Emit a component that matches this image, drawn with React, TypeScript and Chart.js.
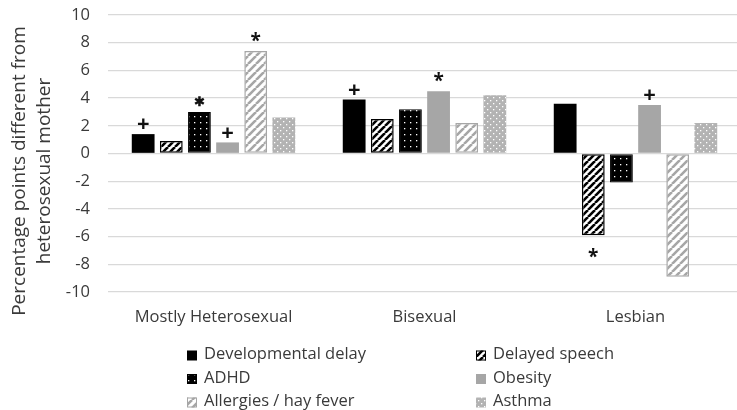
import React, { useEffect, useRef } from 'react';
import { Chart, registerables } from 'chart.js';

Chart.register(...registerables);

// ---- data ----
const categories = ['Mostly Heterosexual', 'Bisexual', 'Lesbian'];
const seriesNames = ['Developmental delay', 'Delayed speech', 'ADHD', 'Obesity', 'Allergies / hay fever', 'Asthma'];
const developmentalDelay = [1.4, 3.9, 3.6];
const delayedSpeech = [0.9, 2.5, -5.9];
const adhd = [3.0, 3.2, -2.1];
const obesity = [0.8, 4.5, 3.5];
const allergies = [7.4, 2.2, -8.9];
const asthma = [2.6, 4.2, 2.2];
// significance markers per series per category
const developmentalDelayMarks = ['+', '+', ''];
const delayedSpeechMarks = ['', '', '*'];
const adhdMarks = ['✱', '', ''];
const obesityMarks = ['+', '*', '+'];
const allergiesMarks = ['*', '', ''];
const asthmaMarks = ['', '', ''];
const yMin = -10;
const yMax = 10;
const yStep = 2;
const yTitleLines = ['Percentage points different from', 'heterosexual mother'];

const FONT = "'Open Sans', 'Liberation Sans', sans-serif";
const TEXT = '#3a3a3a';
const FS = 16.5;

function makeStripes(bg: string, fg: string, size: number, width: number) {
  const c = document.createElement('canvas');
  c.width = size; c.height = size;
  const x = c.getContext('2d')!;
  x.fillStyle = bg; x.fillRect(0, 0, size, size);
  x.strokeStyle = fg; x.lineWidth = width;
  x.beginPath();
  for (const o of [-size, 0, size]) { x.moveTo(o, size); x.lineTo(o + size, 0); }
  x.stroke();
  return x.createPattern(c, 'repeat')!;
}

function makeDots(bg: string, fg: string, size: number, dot: number, pts: number[][]) {
  const c = document.createElement('canvas');
  c.width = size; c.height = size;
  const x = c.getContext('2d')!;
  x.fillStyle = bg; x.fillRect(0, 0, size, size);
  x.fillStyle = fg;
  for (const [px, py] of pts) x.fillRect(px, py, dot, dot);
  return x.createPattern(c, 'repeat')!;
}

export default function App() {
  const ref = useRef<HTMLCanvasElement>(null);

  useEffect(() => {
    const canvas = ref.current!;
    const fills = [
      '#000000',
      makeStripes('#ffffff', '#000000', 7, 2.6),
      makeDots('#000000', '#ffffff', 6, 1.3, [[2, 2]]),
      '#a6a6a6',
      makeStripes('#ffffff', '#a6a6a6', 8, 2.6),
      makeDots('#b3b3b3', '#ffffff', 6, 1.3, [[1, 1], [4, 4]]),
    ];
    const borders = ['#000000', '#000000', '#000000', '#a6a6a6', '#a6a6a6', '#b3b3b3'];
    const borderWidths = [0, 1.5, 1, 0, 1.5, 0];
    const values = [developmentalDelay, delayedSpeech, adhd, obesity, allergies, asthma];
    const marks = [developmentalDelayMarks, delayedSpeechMarks, adhdMarks, obesityMarks, allergiesMarks, asthmaMarks];

    const decor = {
      id: 'decor',
      afterDatasetsDraw(chart: any) {
        const ctx = chart.ctx;
        // significance markers
        ctx.save();
        ctx.fillStyle = '#111';
        ctx.textAlign = 'center';
        ctx.textBaseline = 'alphabetic';
        chart.data.datasets.forEach((ds: any, di: number) => {
          const meta = chart.getDatasetMeta(di);
          meta.data.forEach((bar: any, i: number) => {
            const m = marks[di][i];
            if (!m) return;
            const v = ds.data[i];
            let size: number, k: number, off: number;
            if (m === '+') { size = 22; k = 0.37; off = 11; }
            else if (m === '✱') { size = 13; k = 0.37; off = 10.5; }
            else { size = 19; k = 0.56; off = v >= 0 ? 14.5 : 17.5; }
            ctx.font = `bold ${size}px ${FONT}`;
            const cy = v >= 0 ? bar.y - off : bar.y + off;
            ctx.fillText(m, bar.x, cy + k * size);
          });
        });
        ctx.restore();

        // y-axis title (size fitted so first line spans the same length as the reference)
        ctx.save();
        ctx.fillStyle = TEXT;
        ctx.font = `20px ${FONT}`;
        const w20 = ctx.measureText(yTitleLines[0]).width;
        const tfs = Math.min(19, Math.max(14, (20 * 298) / w20));
        ctx.font = `${tfs}px ${FONT}`;
        ctx.textAlign = 'center';
        ctx.textBaseline = 'middle';
        const xs = [20, 45];
        yTitleLines.forEach((line, li) => {
          ctx.save();
          ctx.translate(xs[li], 171);
          ctx.rotate(-Math.PI / 2);
          ctx.fillText(line, 0, 0);
          ctx.restore();
        });
        ctx.restore();

        // legend (2 columns x 3 rows)
        ctx.save();
        ctx.font = `${FS}px ${FONT}`;
        ctx.textBaseline = 'alphabetic';
        ctx.textAlign = 'left';
        const colX = [187, 476];
        const rowBase = [359, 382.5, 406];
        chart.data.datasets.forEach((ds: any, di: number) => {
          const col = di % 2;
          const row = Math.floor(di / 2);
          const sx = colX[col];
          const sy = rowBase[row] - 8.5;
          ctx.fillStyle = ds.backgroundColor;
          ctx.fillRect(sx, sy, 10, 10);
          if (ds.borderWidth > 0) {
            ctx.strokeStyle = ds.borderColor;
            ctx.lineWidth = 1;
            ctx.strokeRect(sx + 0.5, sy + 0.5, 9, 9);
          }
          ctx.fillStyle = TEXT;
          ctx.fillText(ds.label, sx + 17, rowBase[row]);
        });
        ctx.restore();
      },
    };

    const chart = new Chart(canvas, {
      type: 'bar',
      data: {
        labels: categories,
        datasets: seriesNames.map((name, i) => ({
          label: name,
          data: values[i],
          backgroundColor: fills[i] as any,
          borderColor: borders[i],
          borderWidth: borderWidths[i],
          borderSkipped: false,
          categoryPercentage: 0.8,
          barPercentage: 0.81,
        })),
      },
      options: {
        responsive: false,
        animation: false,
        layout: { padding: { top: 15, right: 0, bottom: 0, left: 0 } },
        plugins: {
          legend: { display: false },
          tooltip: { enabled: false },
        },
        scales: {
          x: {
            grid: { display: false, drawTicks: false },
            border: { display: false },
            ticks: { color: TEXT, font: { family: FONT, size: FS }, padding: 15 },
            afterFit: (s: any) => { s.height = 118; s.paddingLeft = 0; s.paddingRight = 0; },
          },
          y: {
            min: yMin,
            max: yMax,
            ticks: { stepSize: yStep, color: TEXT, font: { family: FONT, size: FS }, padding: 18 },
            grid: { color: '#d9d9d9', lineWidth: 1.3, drawTicks: false },
            border: { display: false },
            afterFit: (s: any) => { s.width = 108; s.paddingTop = 0; s.paddingBottom = 0; },
          },
        },
      },
      plugins: [decor],
    });
    return () => chart.destroy();
  }, []);

  return (
    <div style={{ position: 'fixed', left: 0, top: 0, width: 737, height: 410, overflow: 'hidden', background: '#fff' }}>
      <canvas ref={ref} width={741} height={410} style={{ display: 'block' }} />
    </div>
  );
}
